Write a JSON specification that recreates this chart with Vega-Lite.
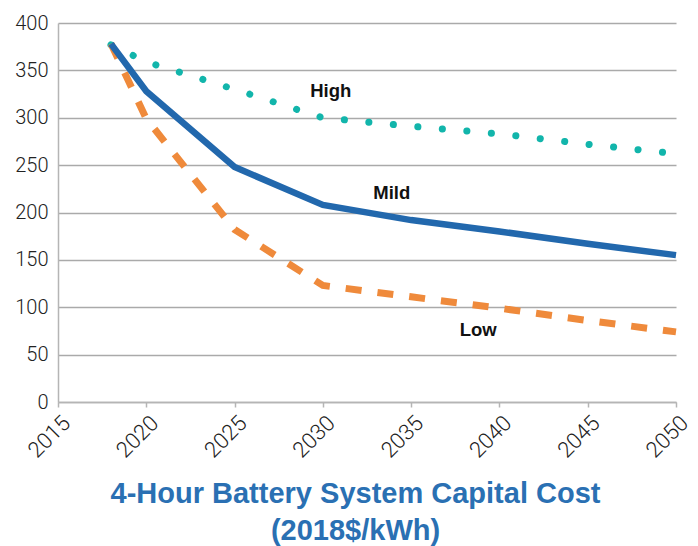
{
  "$schema": "https://vega.github.io/schema/vega-lite/v6.json",
  "width": 618,
  "height": 379,
  "autosize": "none",
  "padding": {"left": 58, "top": 23, "right": 22, "bottom": 144},
  "background": "white",
  "config": {"view": {"stroke": null}},
  "datasets": {
    "series": [
      {"year": 2018, "value": 378, "scenario": "Mild"},
      {"year": 2020, "value": 328, "scenario": "Mild"},
      {"year": 2025, "value": 248, "scenario": "Mild"},
      {"year": 2030, "value": 208, "scenario": "Mild"},
      {"year": 2035, "value": 192, "scenario": "Mild"},
      {"year": 2040, "value": 180, "scenario": "Mild"},
      {"year": 2045, "value": 167, "scenario": "Mild"},
      {"year": 2050, "value": 155, "scenario": "Mild"},
      {"year": 2018, "value": 378, "scenario": "Low"},
      {"year": 2020, "value": 299, "scenario": "Low"},
      {"year": 2025, "value": 182, "scenario": "Low"},
      {"year": 2030, "value": 123, "scenario": "Low"},
      {"year": 2035, "value": 111, "scenario": "Low"},
      {"year": 2040, "value": 99, "scenario": "Low"},
      {"year": 2045, "value": 86, "scenario": "Low"},
      {"year": 2050, "value": 74, "scenario": "Low"},
      {"year": 2018, "value": 377, "scenario": "High"},
      {"year": 2020, "value": 359, "scenario": "High"},
      {"year": 2025, "value": 330, "scenario": "High"},
      {"year": 2030, "value": 300, "scenario": "High"},
      {"year": 2035, "value": 291, "scenario": "High"},
      {"year": 2040, "value": 283, "scenario": "High"},
      {"year": 2045, "value": 272, "scenario": "High"},
      {"year": 2050, "value": 262, "scenario": "High"}
    ],
    "labels": [
      {"year": 2030.45, "value": 328, "label": "High"},
      {"year": 2033.9, "value": 220.5, "label": "Mild"},
      {"year": 2038.8, "value": 76, "label": "Low"}
    ]
  },
  "layer": [
    {
      "data": {"name": "series"},
      "transform": [{"filter": "datum.scenario === 'High'"}],
      "mark": {"type": "line", "color": "#12b5ab", "strokeWidth": 7, "strokeDash": [0.1, 24.5], "strokeCap": "round"},
      "encoding": {
        "x": {
          "field": "year", "type": "quantitative",
          "scale": {"domain": [2015, 2050], "nice": false, "zero": false},
          "axis": {
            "values": [2015, 2020, 2025, 2030, 2035, 2040, 2045, 2050],
            "format": "d",
            "grid": false,
            "domainColor": "#b5b5b5", "domainWidth": 1.5,
            "tickColor": "#b5b5b5", "tickWidth": 1.5, "tickSize": 5,
            "labelAngle": -45, "labelAlign": "right", "labelBaseline": "top",
            "labelFont": "Roboto", "labelFontWeight": 300, "labelFontSize": 22, "labelColor": "#222",
            "labelPadding": 5, "labelOffset": 1, "labelFlush": false, "labelOverlap": false,
            "title": ["4-Hour Battery System Capital Cost", "(2018$/kWh)"],
            "titleFont": "Liberation Sans", "titleFontSize": 29, "titleFontWeight": "bold",
            "titleColor": "#2a70b3", "titleLineHeight": 37,
            "titleX": 297, "titleY": 100, "titleAlign": "center", "titleBaseline": "alphabetic", "titleAnchor": null
          }
        },
        "y": {
          "field": "value", "type": "quantitative",
          "scale": {"domain": [0, 400], "nice": false},
          "axis": {
            "values": [0, 50, 100, 150, 200, 250, 300, 350, 400],
            "grid": true, "gridColor": "#aaaaaa", "gridWidth": 1.5,
            "domainColor": "#b5b5b5", "domainWidth": 1.5,
            "ticks": false,
            "labelFont": "Roboto", "labelFontWeight": 300, "labelFontSize": 20, "labelColor": "#222",
            "labelPadding": 10,
            "title": null
          }
        }
      }
    },
    {
      "data": {"name": "series"},
      "transform": [{"filter": "datum.scenario === 'Low'"}],
      "mark": {"type": "line", "color": "#ef8a3b", "strokeWidth": 7, "strokeDash": [16, 16], "strokeCap": "butt"},
      "encoding": {
        "x": {"field": "year", "type": "quantitative"},
        "y": {"field": "value", "type": "quantitative"}
      }
    },
    {
      "data": {"name": "series"},
      "transform": [{"filter": "datum.scenario === 'Mild'"}],
      "mark": {"type": "line", "color": "#2268ad", "strokeWidth": 6.5, "strokeJoin": "miter"},
      "encoding": {
        "x": {"field": "year", "type": "quantitative"},
        "y": {"field": "value", "type": "quantitative"}
      }
    },
    {
      "data": {"name": "labels"},
      "mark": {"type": "text", "font": "Liberation Sans", "fontWeight": "bold", "fontSize": 18.5, "color": "#111", "align": "center", "baseline": "middle"},
      "encoding": {
        "x": {"field": "year", "type": "quantitative"},
        "y": {"field": "value", "type": "quantitative"},
        "text": {"field": "label"}
      }
    }
  ]
}
